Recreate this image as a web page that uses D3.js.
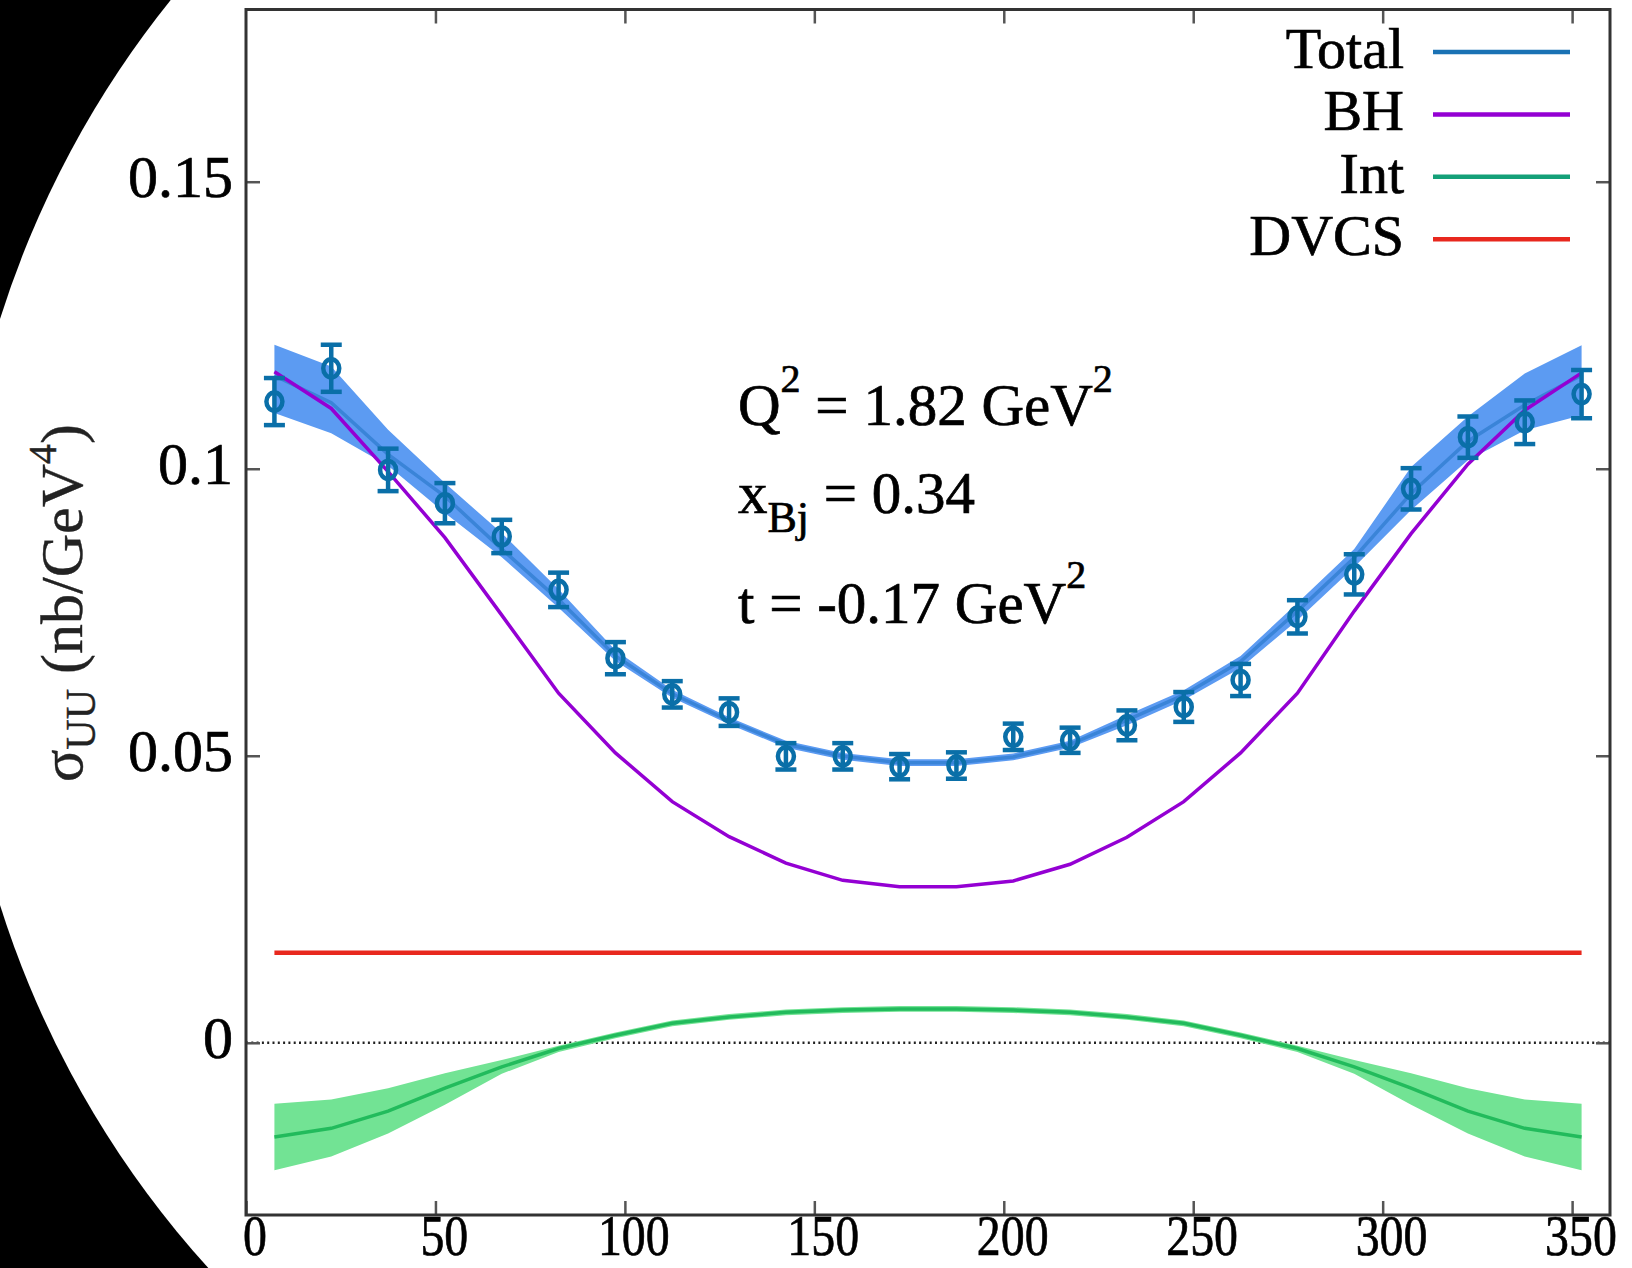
<!DOCTYPE html>
<html>
<head>
<meta charset="utf-8">
<script src="https://cdn.jsdelivr.net/npm/d3@7"></script>
<style>
  body { margin: 0; background: #000; }
  svg { display: block; }
  text { stroke: #000; stroke-width: 0.7px; }
</style>
</head>
<body>
<svg id="chart"></svg>
<script>
// azimuthal angle bins (deg)
const phi = [7.5, 22.5, 37.5, 52.5, 67.5, 82.5, 97.5, 112.5, 127.5, 142.5, 157.5, 172.5,
             187.5, 202.5, 217.5, 232.5, 247.5, 262.5, 277.5, 292.5, 307.5, 322.5, 337.5, 352.5];

// measured cross section and its errors
const sigmaData = [0.1117, 0.1175, 0.0998, 0.0940, 0.0882, 0.0789, 0.0670, 0.0607, 0.0576, 0.0499, 0.0499, 0.0481,
                   0.0483, 0.0533, 0.0527, 0.0553, 0.0585, 0.0632, 0.0742, 0.0816, 0.0965, 0.1055, 0.1081, 0.1130];
const sigmaErr = [0.0041, 0.0041, 0.0037, 0.0035, 0.0029, 0.0030, 0.0028, 0.0023, 0.0024, 0.0023, 0.0023, 0.0022,
                  0.0023, 0.0023, 0.0022, 0.0026, 0.0026, 0.0028, 0.0029, 0.0035, 0.0036, 0.0036, 0.0038, 0.0042];

// model curves
const totalCurve = [0.1162, 0.1115, 0.1025, 0.0952, 0.0860, 0.0772, 0.0674, 0.0608, 0.0561, 0.0520, 0.0499, 0.0488,
                    0.0488, 0.0498, 0.0520, 0.0562, 0.0606, 0.0664, 0.0752, 0.0845, 0.0957, 0.1048, 0.1111, 0.1163];
const totalLow  = [0.1097, 0.1062, 0.1005, 0.0923, 0.0846, 0.0758, 0.0665, 0.0601, 0.0555, 0.0514, 0.0493, 0.0482,
                   0.0482, 0.0492, 0.0514, 0.0553, 0.0597, 0.0653, 0.0736, 0.0829, 0.0928, 0.1015, 0.1067, 0.1093];
const totalHigh = [0.1216, 0.1178, 0.1068, 0.0975, 0.0888, 0.0790, 0.0684, 0.0615, 0.0567, 0.0526, 0.0505, 0.0494,
                   0.0494, 0.0504, 0.0526, 0.0571, 0.0614, 0.0674, 0.0766, 0.0860, 0.1003, 0.1091, 0.1166, 0.1215];
const bhCurve = [0.1169, 0.1105, 0.0995, 0.0880, 0.0745, 0.0609, 0.0505, 0.0420, 0.0359, 0.0313, 0.0283, 0.0272,
                 0.0272, 0.0282, 0.0311, 0.0358, 0.0420, 0.0505, 0.0609, 0.0752, 0.0887, 0.1008, 0.1102, 0.1167];
const intCurve = [-0.0164, -0.0149, -0.0119, -0.0079, -0.0042, -0.0010, 0.0013, 0.0034, 0.0045, 0.0053, 0.0057, 0.0059,
                  0.0059, 0.0057, 0.0053, 0.0045, 0.0034, 0.0013, -0.0010, -0.0042, -0.0079, -0.0119, -0.0149, -0.0164];
const intLow  = [-0.0222, -0.0198, -0.0158, -0.0108, -0.0054, -0.0016, 0.0008, 0.0029, 0.0040, 0.0048, 0.0052, 0.0054,
                 0.0054, 0.0052, 0.0048, 0.0040, 0.0029, 0.0008, -0.0016, -0.0054, -0.0108, -0.0158, -0.0198, -0.0222];
const intHigh = [-0.0106, -0.0099, -0.0079, -0.0053, -0.0030, -0.0005, 0.0018, 0.0039, 0.0050, 0.0058, 0.0062, 0.0064,
                 0.0064, 0.0062, 0.0058, 0.0050, 0.0039, 0.0018, -0.0005, -0.0030, -0.0053, -0.0079, -0.0099, -0.0106];
const dvcsCurve = [0.0157, 0.0157, 0.0157, 0.0157, 0.0157, 0.0157, 0.0157, 0.0157, 0.0157, 0.0157, 0.0157, 0.0157,
                   0.0157, 0.0157, 0.0157, 0.0157, 0.0157, 0.0157, 0.0157, 0.0157, 0.0157, 0.0157, 0.0157, 0.0157];

const xTicks = [0, 50, 100, 150, 200, 250, 300, 350];
const yTicks = [0, 0.05, 0.1, 0.15];
const legendNames = ['Total', 'BH', 'Int', 'DVCS'];
const legendColors = ['#1a72b4', '#9400d3', '#14a078', '#e8281e'];

const W = 1632, H = 1268;
const serif = '"Liberation Serif", "Times New Roman", serif';

const svg = d3.select('#chart').attr('width', W).attr('height', H);

// black frame with the big white disc behind the plot
svg.append('rect').attr('width', W).attr('height', H).attr('fill', '#000');
svg.append('circle').attr('cx', 931).attr('cy', 612).attr('r', 976).attr('fill', '#fff');

const x = d3.scaleLinear().domain([0, 360]).range([246, 1610]);
const y = d3.scaleLinear().domain([-0.03, 0.18]).range([1215, 9.5]);

// zero line
svg.append('line')
  .attr('x1', x(0)).attr('x2', x(360))
  .attr('y1', y(0)).attr('y2', y(0))
  .attr('stroke', '#222').attr('stroke-width', 2.4)
  .attr('stroke-dasharray', '2,3.3');

const band = (lo, hi) => d3.area()
  .x((d, i) => x(phi[i]))
  .y0((d, i) => y(lo[i]))
  .y1((d, i) => y(hi[i]));
const line = vals => d3.line()
  .x((d, i) => x(phi[i]))
  .y((d, i) => y(vals[i]));

// bands
svg.append('path').datum(phi).attr('d', band(totalLow, totalHigh)).attr('fill', '#5c9bf2');
svg.append('path').datum(phi).attr('d', band(intLow, intHigh)).attr('fill', '#72e394');

// curves
svg.append('path').datum(phi).attr('d', line(totalCurve))
  .attr('fill', 'none').attr('stroke', '#3a84d8').attr('stroke-width', 3.5);
svg.append('path').datum(phi).attr('d', line(intCurve))
  .attr('fill', 'none').attr('stroke', '#22bb5c').attr('stroke-width', 3.5);
svg.append('path').datum(phi).attr('d', line(bhCurve))
  .attr('fill', 'none').attr('stroke', '#9400d3').attr('stroke-width', 3.5);
svg.append('path').datum(phi).attr('d', line(dvcsCurve))
  .attr('fill', 'none').attr('stroke', '#e8281e').attr('stroke-width', 4.5);

// data points with error bars
const mk = svg.append('g').attr('stroke', '#0a6fa8').attr('stroke-width', 4.5).attr('fill', 'none');
const pts = mk.selectAll('g').data(phi).join('g');
pts.append('line')
  .attr('x1', d => x(d)).attr('x2', d => x(d))
  .attr('y1', (d, i) => y(sigmaData[i] + sigmaErr[i]))
  .attr('y2', (d, i) => y(sigmaData[i] - sigmaErr[i]));
pts.append('line')
  .attr('x1', d => x(d) - 10.5).attr('x2', d => x(d) + 10.5)
  .attr('y1', (d, i) => y(sigmaData[i] + sigmaErr[i]))
  .attr('y2', (d, i) => y(sigmaData[i] + sigmaErr[i]));
pts.append('line')
  .attr('x1', d => x(d) - 10.5).attr('x2', d => x(d) + 10.5)
  .attr('y1', (d, i) => y(sigmaData[i] - sigmaErr[i]))
  .attr('y2', (d, i) => y(sigmaData[i] - sigmaErr[i]));
pts.append('ellipse')
  .attr('cx', d => x(d)).attr('cy', (d, i) => y(sigmaData[i]))
  .attr('rx', 8).attr('ry', 9);

// axes, ticks pointing inward on all four sides
const tickStyle = g => {
  g.select('.domain').remove();
  g.selectAll('.tick line').attr('stroke', '#555').attr('stroke-width', 2.5);
};
svg.append('g').attr('transform', `translate(0,${y(-0.03)})`)
  .call(d3.axisBottom(x).tickValues(xTicks).tickSize(-14).tickFormat(d3.format('d')))
  .call(tickStyle)
  .call(g => g.selectAll('.tick text')
    .attr('font-family', serif).attr('font-size', 57).attr('fill', '#000')
    .attr('y', 40).attr('dy', 0).attr('x', 10)
    .attr('transform', 'scale(0.84,1)'));
svg.append('g').attr('transform', `translate(0,${y(0.18)})`)
  .call(d3.axisTop(x).tickValues(xTicks.slice(1)).tickSize(-14).tickFormat(''))
  .call(tickStyle);
svg.append('g').attr('transform', `translate(${x(0)},0)`)
  .call(d3.axisLeft(y).tickValues(yTicks).tickSize(-14).tickFormat(d => String(d)))
  .call(tickStyle)
  .call(g => g.selectAll('.tick text')
    .attr('font-family', serif).attr('font-size', 60).attr('fill', '#000')
    .attr('x', -13).attr('dy', 15));
svg.append('g').attr('transform', `translate(${x(360)},0)`)
  .call(d3.axisRight(y).tickValues(yTicks).tickSize(-14).tickFormat(''))
  .call(tickStyle);

// frame
svg.append('rect')
  .attr('x', x(0)).attr('y', y(0.18))
  .attr('width', x(360) - x(0)).attr('height', y(-0.03) - y(0.18))
  .attr('fill', 'none').attr('stroke', '#333').attr('stroke-width', 3);

// legend
const leg = svg.append('g');
legendNames.forEach((name, i) => {
  const ly = 52 + i * 62.4;
  leg.append('text').attr('x', 1404).attr('y', ly + 16)
    .attr('text-anchor', 'end').attr('font-family', serif).attr('font-size', 58)
    .text(name);
  leg.append('line').attr('x1', 1433).attr('x2', 1570).attr('y1', ly).attr('y2', ly)
    .attr('stroke', legendColors[i]).attr('stroke-width', 4.5);
});

// kinematics annotation
const ann = svg.append('g').attr('font-family', serif).attr('font-size', 59).attr('fill', '#000');
const t1 = ann.append('text').attr('x', 738).attr('y', 425);
t1.append('tspan').text('Q');
t1.append('tspan').attr('font-size', 40).attr('dy', -33).text('2');
t1.append('tspan').attr('dy', 33).text(' = 1.82 GeV');
t1.append('tspan').attr('font-size', 40).attr('dy', -33).text('2');
const t2 = ann.append('text').attr('x', 738).attr('y', 513);
t2.append('tspan').text('x');
t2.append('tspan').attr('font-size', 44).attr('dy', 19).text('Bj');
t2.append('tspan').attr('dy', -19).text(' = 0.34');
const t3 = ann.append('text').attr('x', 738).attr('y', 623);
t3.append('tspan').text('t = -0.17 GeV');
t3.append('tspan').attr('font-size', 40).attr('dy', -35).text('2');

// y axis title
const yl = svg.append('text')
  .attr('transform', 'translate(82,603) rotate(-90)')
  .attr('text-anchor', 'middle').attr('font-family', serif).attr('font-size', 60).attr('fill', '#222')
  .style('stroke', '#222').style('stroke-width', '0.4px');
yl.append('tspan').text('\u03c3');
yl.append('tspan').attr('font-size', 42).attr('dy', 13).text('UU');
yl.append('tspan').attr('dy', -13).text(' (nb/GeV');
yl.append('tspan').attr('font-size', 40).attr('dy', -26).text('4');
yl.append('tspan').attr('dy', 26).text(')');
</script>
</body>
</html>
